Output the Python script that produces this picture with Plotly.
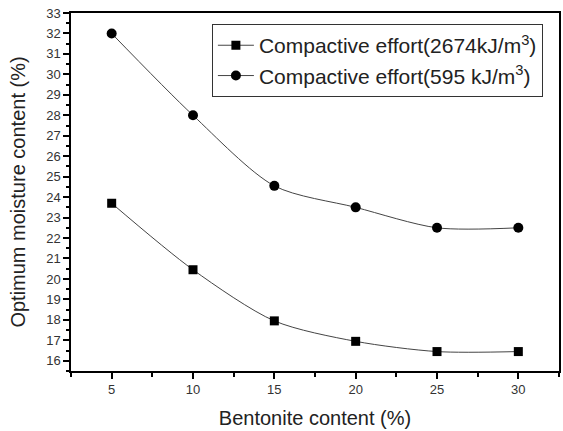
import plotly.graph_objects as go

bentonite = [5, 10, 15, 20, 25, 30]
omc_2674 = [23.7, 20.45, 17.95, 16.95, 16.45, 16.45]
omc_595 = [32.0, 28.0, 24.55, 23.5, 22.5, 22.5]
name_2674 = "Compactive effort(2674kJ/m<sup>3</sup>)"
name_595 = "Compactive effort(595 kJ/m<sup>3</sup>)"

FONT = "Liberation Sans, Arial"

fig = go.Figure()
fig.add_trace(go.Scatter(
    x=bentonite, y=omc_2674, name=name_2674, mode="lines+markers",
    line=dict(color="#444444", width=1, shape="spline", smoothing=0.8),
    marker=dict(symbol="square", size=9, color="black"),
))
fig.add_trace(go.Scatter(
    x=bentonite, y=omc_595, name=name_595, mode="lines+markers",
    line=dict(color="#444444", width=1, shape="spline", smoothing=0.8),
    marker=dict(symbol="circle", size=10, color="black"),
))

axis_common = dict(
    showline=True, linecolor="black", linewidth=1.5, mirror=True,
    ticks="outside", tickcolor="black", tickwidth=1.5, ticklen=6,
    showgrid=False, zeroline=False, automargin=False,
    ticklabeloverflow="allow",
    tickfont=dict(family=FONT, size=13, color="#333333"),
)

fig.update_xaxes(
    range=[2.5, 32.5], tick0=0, dtick=5,
    minor=dict(ticks="outside", dtick=2.5, tick0=0, ticklen=4, tickcolor="black", tickwidth=1.5, showgrid=False),
    title=dict(text="Bentonite content (%)", font=dict(family=FONT, size=20, color="#222222")),
    **axis_common,
)
fig.update_yaxes(
    range=[15.5, 33], tick0=0, dtick=1,
    minor=dict(ticks="outside", dtick=0.5, tick0=0, ticklen=3, tickcolor="black", tickwidth=1.5, showgrid=False),
    title=dict(text="Optimum moisture content (%)", font=dict(family=FONT, size=20, color="#222222")),
    **axis_common,
)

fig.update_layout(
    width=563, height=431,
    margin=dict(l=71, r=4, t=13, b=60),
    paper_bgcolor="white", plot_bgcolor="white",
    font=dict(family=FONT, color="#222222"),
    legend=dict(
        x=0.967, y=0.969, xanchor="right", yanchor="top",
        bordercolor="#333333", borderwidth=1, bgcolor="white",
        font=dict(size=21, family=FONT),
        tracegroupgap=0, itemwidth=36,
    ),
    showlegend=True,
)

fig.write_html("out.html", config={"displayModeBar": False},
               post_script="document.body.style.margin='0';")
